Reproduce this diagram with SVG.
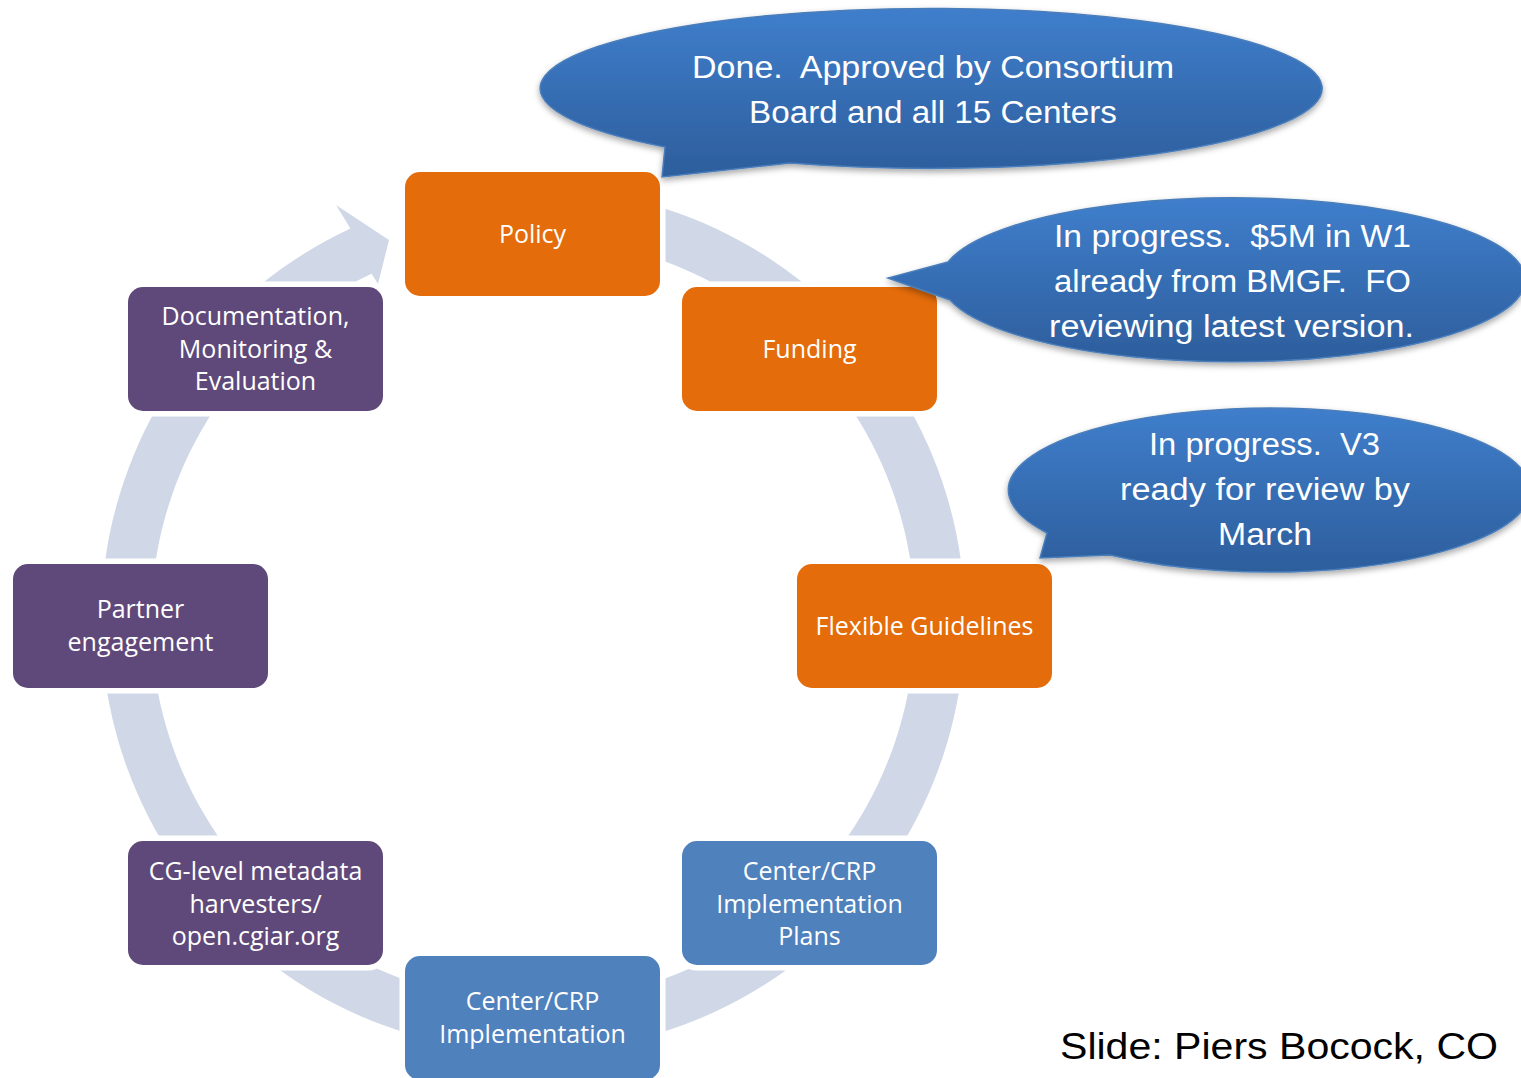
<svg xmlns="http://www.w3.org/2000/svg" width="1521" height="1078" viewBox="0 0 1521 1078">
<style>
.node rect{stroke:#ffffff;stroke-width:11;paint-order:stroke fill}
.orange rect{fill:#E46C0A}
.purple rect{fill:#5F497A}
.blue rect{fill:#4F81BD}
.node text{font-family:"Open Sans","DejaVu Sans",sans-serif;font-size:25px;fill:#ffffff;text-anchor:middle}
.callout path{fill:url(#cg);stroke:#4A7EBB;stroke-width:1.5;filter:url(#sh)}
.callout text{font-family:"Liberation Sans",Arial,sans-serif;font-size:31px;fill:#ffffff}
.credit{font-family:"Liberation Sans",Arial,sans-serif;font-size:36px;fill:#000000}
</style>
<defs>
<linearGradient id="cg" x1="0" y1="0" x2="0" y2="1">
<stop offset="0" stop-color="#3F7ECC"/>
<stop offset="1" stop-color="#2D5E9C"/>
</linearGradient>
<filter id="sh" x="-10%" y="-20%" width="120%" height="150%">
<feDropShadow dx="0" dy="3" stdDeviation="3" flood-color="#000000" flood-opacity="0.35"/>
</filter>
</defs>
<rect width="1521" height="1078" fill="#ffffff"/>
<g id="connectors">
<path d="M495.35 189.65 A432 432 0 1 1 350.43 228.48 L336 205 L389 240 L378 284 L371.57 273.79 A382 382 0 1 0 499.71 239.45 Z" fill="#D0D8E8"/>
</g>
<g id="node-policy" class="node orange">
<rect x="405" y="172" width="255" height="124" rx="15"/>
<text x="532.5" y="243">Policy</text>
</g>
<g id="node-funding" class="node orange">
<rect x="682" y="287" width="255" height="124" rx="15"/>
<text x="809.5" y="358">Funding</text>
</g>
<g id="node-guidelines" class="node orange">
<rect x="797" y="564" width="255" height="124" rx="15"/>
<text x="924.5" y="635">Flexible Guidelines</text>
</g>
<g id="node-plans" class="node blue">
<rect x="682" y="841" width="255" height="124" rx="15"/>
<text x="809.5" y="880">Center/CRP</text>
<text x="809.5" y="912.5">Implementation</text>
<text x="809.5" y="945">Plans</text>
</g>
<g id="node-implementation" class="node blue">
<rect x="405" y="956" width="255" height="124" rx="15"/>
<text x="532.5" y="1010">Center/CRP</text>
<text x="532.5" y="1043">Implementation</text>
</g>
<g id="node-harvesters" class="node purple">
<rect x="128" y="841" width="255" height="124" rx="15"/>
<text x="255.5" y="880">CG-level metadata</text>
<text x="255.5" y="912.5">harvesters/</text>
<text x="255.5" y="945">open.cgiar.org</text>
</g>
<g id="node-partner" class="node purple">
<rect x="13" y="564" width="255" height="124" rx="15"/>
<text x="140.5" y="618">Partner</text>
<text x="140.5" y="651">engagement</text>
</g>
<g id="node-documentation" class="node purple">
<rect x="128" y="287" width="255" height="124" rx="15"/>
<text x="255.5" y="325">Documentation,</text>
<text x="255.5" y="357.5">Monitoring &amp;</text>
<text x="255.5" y="390">Evaluation</text>
</g>
<g id="callout-policy" class="callout">
<path d="M665 147 L662 177 L790 163 A391 80 0 1 0 665 147 Z"/>
<text x="692" y="78" textLength="482" lengthAdjust="spacingAndGlyphs" xml:space="preserve">Done.  Approved by Consortium</text>
<text x="749" y="123" textLength="368" lengthAdjust="spacingAndGlyphs">Board and all 15 Centers</text>
</g>
<g id="callout-funding" class="callout">
<path d="M948 262 L888 278 L950 300 A292 82 0 1 0 948 262 Z"/>
<text x="1054" y="247" textLength="357" lengthAdjust="spacingAndGlyphs" xml:space="preserve">In progress.  $5M in W1</text>
<text x="1054" y="292" textLength="357" lengthAdjust="spacingAndGlyphs" xml:space="preserve">already from BMGF.  FO</text>
<text x="1049" y="337" textLength="365" lengthAdjust="spacingAndGlyphs">reviewing latest version.</text>
</g>
<g id="callout-guidelines" class="callout">
<path d="M1047 533 L1040 558 L1110 555 A261 82 0 1 0 1047 533 Z"/>
<text x="1149" y="455" textLength="231" lengthAdjust="spacingAndGlyphs" xml:space="preserve">In progress.  V3</text>
<text x="1120" y="500" textLength="290" lengthAdjust="spacingAndGlyphs">ready for review by</text>
<text x="1218" y="545" textLength="94" lengthAdjust="spacingAndGlyphs">March</text>
</g>
<text class="credit" x="1060" y="1059" textLength="438" lengthAdjust="spacingAndGlyphs">Slide: Piers Bocock, CO</text>
</svg>
